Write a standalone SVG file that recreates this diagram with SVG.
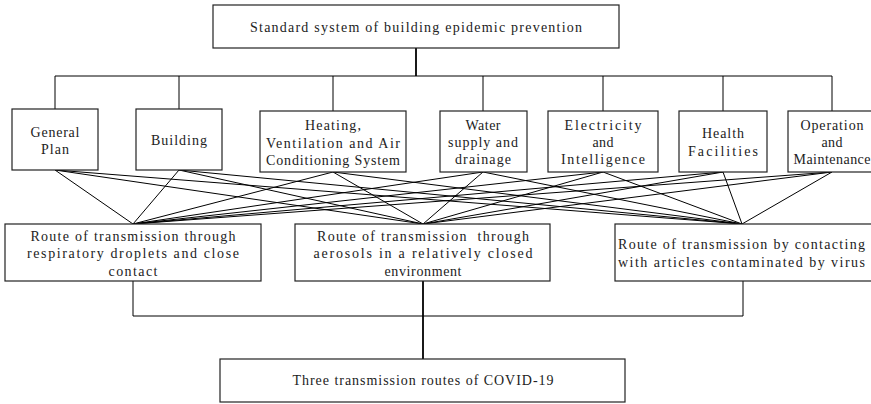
<svg xmlns="http://www.w3.org/2000/svg" width="871" height="404" viewBox="0 0 871 404">
<style>
.box{fill:#fff;stroke:#222;stroke-width:1.2}
text{font-family:"Liberation Serif","DejaVu Serif",serif;font-size:14px;fill:#222;text-anchor:middle}
.l{text-anchor:start}
.c{stroke:#000;stroke-width:1;fill:none}
.t{stroke:#000;stroke-width:1.8;fill:none}
</style>
<rect width="871" height="404" fill="#fff"/>
<g id="connectors">
<path class="t" d="M416,48V76"/>
<path class="c" d="M55,76H832M55,76V109M179,76V109M333,76V111M483,76V111M603,76V111M723,76V111M832,76V111"/>
<path class="c" d="M55,170L133,224M55,170L423,224M55,170L742,224
M179,170L133,224M179,170L423,224M179,170L742,224
M333,172L133,224M333,172L423,224M333,172L742,224
M483,172L133,224M483,172L423,224M483,172L742,224
M603,172L133,224M603,172L423,224M603,172L742,224
M723,172L133,224M723,172L423,224M723,172L742,224
M832,172L133,224M832,172L423,224M832,172L742,224"/>
<path class="c" d="M133,281V316H743V281"/>
<path class="t" d="M423,281V359"/>
</g>
<g id="top"><rect class="box" x="213" y="5" width="406" height="43"/><text x="416" y="32" textLength="332" lengthAdjust="spacing">Standard system of building epidemic prevention</text></g>
<g id="general-plan"><rect class="box" x="12" y="109" width="86" height="61"/><text x="55" y="137" textLength="49" lengthAdjust="spacing">General</text><text x="55" y="154" textLength="28" lengthAdjust="spacing">Plan</text></g>
<g id="building"><rect class="box" x="136" y="109" width="86" height="61"/><text x="179" y="145" textLength="56" lengthAdjust="spacing">Building</text></g>
<g id="hvac"><rect class="box" x="260" y="111" width="146" height="61"/><text x="333" y="130" textLength="56" lengthAdjust="spacing">Heating,</text><text x="333" y="148" textLength="134" lengthAdjust="spacing">Ventilation and Air</text><text x="333" y="165" textLength="134" lengthAdjust="spacing">Conditioning System</text></g>
<g id="water"><rect class="box" x="440" y="111" width="87" height="61"/><text x="483" y="130" textLength="35" lengthAdjust="spacing">Water</text><text x="483" y="147" textLength="70" lengthAdjust="spacing">supply and</text><text x="483" y="164" textLength="56" lengthAdjust="spacing">drainage</text></g>
<g id="electricity"><rect class="box" x="548" y="111" width="110" height="61"/><text x="603" y="130" textLength="77" lengthAdjust="spacing">Electricity</text><text x="603" y="147" textLength="21" lengthAdjust="spacing">and</text><text x="603" y="164" textLength="84" lengthAdjust="spacing">Intelligence</text></g>
<g id="health"><rect class="box" x="679" y="111" width="88" height="61"/><text x="723" y="138" textLength="42" lengthAdjust="spacing">Health</text><text x="723" y="156" textLength="70" lengthAdjust="spacing">Facilities</text></g>
<g id="operation"><rect class="box" x="788" y="111" width="90" height="61"/><text x="832" y="130" textLength="63" lengthAdjust="spacing">Operation</text><text x="832" y="147" textLength="21" lengthAdjust="spacing">and</text><text x="832" y="164" textLength="77" lengthAdjust="spacing">Maintenance</text></g>
<g id="route1"><rect class="box" x="5" y="224" width="256" height="57"/><text x="133" y="241" textLength="205" lengthAdjust="spacing">Route of transmission through</text><text x="133" y="258" textLength="212" lengthAdjust="spacing">respiratory droplets and close</text><text x="133" y="276" textLength="49" lengthAdjust="spacing">contact</text></g>
<g id="route2"><rect class="box" x="295" y="224" width="255" height="57"/><text x="423" y="241" xml:space="preserve" textLength="212" lengthAdjust="spacing">Route of transmission  through</text><text x="423" y="258" textLength="219" lengthAdjust="spacing">aerosols in a relatively closed</text><text x="423" y="276" textLength="77" lengthAdjust="spacing">environment</text></g>
<g id="route3"><rect class="box" x="615" y="224" width="262" height="57"/><text class="l" x="618" y="249" textLength="247" lengthAdjust="spacing">Route of transmission by contacting</text><text class="l" x="618" y="267" textLength="247" lengthAdjust="spacing">with articles contaminated by virus</text></g>
<g id="bottom"><rect class="box" x="220" y="359" width="405" height="43"/><text x="423" y="385" textLength="261" lengthAdjust="spacing">Three transmission routes of COVID-19</text></g>
</svg>
